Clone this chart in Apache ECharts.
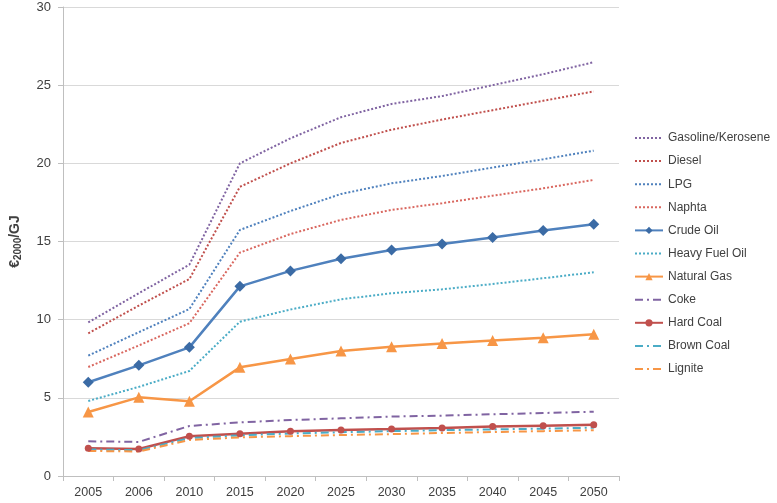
<!DOCTYPE html>
<html><head><meta charset="utf-8">
<script src="https://cdn.jsdelivr.net/npm/echarts@6/dist/echarts.min.js"></script>
<style>html,body{margin:0;padding:0;background:#fff}#c{width:777px;height:503px}</style>
</head><body><div id="c"></div>
<script>
const years = ['2005','2006','2010','2015','2020','2025','2030','2035','2040','2045','2050'];
const yTicks = [0,5,10,15,20,25,30];
const gasoline = [9.83,11.69,13.52,20.0,21.6,22.95,23.8,24.3,25.0,25.7,26.47];
const diesel = [9.13,10.9,12.6,18.5,20.0,21.3,22.15,22.8,23.4,24.0,24.6];
const lpg = [7.7,9.2,10.68,15.74,16.95,18.04,18.72,19.19,19.73,20.26,20.81];
const naphta = [6.97,8.35,9.77,14.29,15.48,16.38,17.02,17.45,17.93,18.4,18.94];
const crudeOil = [6.0,7.08,8.23,12.13,13.12,13.9,14.46,14.84,15.25,15.7,16.1];
const heavyFuelOil = [4.8,5.7,6.72,9.87,10.65,11.3,11.69,11.94,12.28,12.65,13.03];
const naturalGas = [4.09,5.03,4.78,6.95,7.49,8.0,8.27,8.47,8.66,8.85,9.07];
const coke = [2.22,2.18,3.2,3.43,3.58,3.69,3.8,3.86,3.95,4.03,4.11];
const hardCoal = [1.77,1.73,2.54,2.71,2.86,2.94,3.0,3.07,3.16,3.22,3.28];
const brownCoal = [1.7,1.65,2.42,2.6,2.72,2.8,2.87,2.93,2.98,3.03,3.09];
const lignite = [1.6,1.57,2.3,2.47,2.55,2.62,2.68,2.75,2.81,2.87,2.93];

const dot = [2,2];
const dashDot = [8,4,2,4];
function s(name, data, color, type, extra) {
  return Object.assign({
    name, type: 'line', data, symbol: 'none', smooth: false,
    lineStyle: {color, width: type === 'solid' ? 2.5 : 2, type}, itemStyle: {color}
  }, extra || {});
}
const series = [
  s('Gasoline/Kerosene', gasoline, '#8064A2', dot),
  s('Diesel', diesel, '#C0504D', dot),
  s('LPG', lpg, '#4F81BD', dot),
  s('Naphta', naphta, '#D9675F', dot),
  s('Crude Oil', crudeOil, '#4F81BD', 'solid', {symbol: 'diamond', symbolSize: 11, itemStyle: {color: '#3B6BA5'}}),
  s('Heavy Fuel Oil', heavyFuelOil, '#4BACC6', dot),
  s('Natural Gas', naturalGas, '#F79646', 'solid', {symbol: 'triangle', symbolSize: 11, itemStyle: {color: '#F79646'}}),
  s('Coke', coke, '#8064A2', dashDot),
  s('Hard Coal', hardCoal, '#C0504D', 'solid', {symbol: 'circle', symbolSize: 7, itemStyle: {color: '#C0504D'}}),
  s('Brown Coal', brownCoal, '#4BACC6', dashDot),
  s('Lignite', lignite, '#F79646', dashDot)
];
const legendData = series.map(x => x.symbol === 'none'
  ? {name: x.name, itemStyle: {opacity: 0}}
  : {name: x.name});

const chart = echarts.init(document.getElementById('c'), null, {renderer: 'canvas'});
chart.setOption({
  animation: false,
  textStyle: {fontFamily: 'Liberation Sans, Arial, sans-serif'},
  grid: {left: 57, right: 158, top: 7, bottom: 27, containLabel: false},
  legend: {
    orient: 'vertical', left: 629, top: 127, itemGap: 11.1, itemWidth: 28, itemHeight: 9,
    textStyle: {fontSize: 12, color: '#404040'},
    data: legendData
  },
  xAxis: {
    type: 'category', data: years, boundaryGap: true,
    axisLine: {lineStyle: {color: '#BFBFBF', width: 1}},
    axisTick: {show: true, length: 5, lineStyle: {color: '#BFBFBF'}},
    axisLabel: {fontSize: 12.5, color: '#404040', margin: 10}
  },
  yAxis: {
    type: 'value', min: yTicks[0], max: yTicks[yTicks.length-1], interval: 5,
    name: '{a|€}{s|2000}{a|/GJ}', nameLocation: 'middle', nameGap: 40, nameRotate: 90,
    nameTextStyle: {rich: {a: {fontSize: 14, fontWeight: 'bold', color: '#404040'}, s: {fontSize: 10, fontWeight: 'bold', color: '#404040', verticalAlign: 'bottom', padding: [6,0,0,0]}}},
    axisLine: {show: true, lineStyle: {color: '#BFBFBF'}},
    axisTick: {show: true, length: 5, inside: false, lineStyle: {color: '#BFBFBF'}},
    splitLine: {lineStyle: {color: '#D9D9D9', width: 1}},
    axisLabel: {fontSize: 13, color: '#404040', margin: 12}
  },
  series
});
</script></body></html>
